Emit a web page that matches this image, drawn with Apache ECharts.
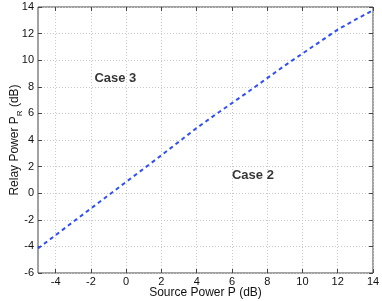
<!DOCTYPE html>
<html><head><meta charset="utf-8">
<script src="https://cdn.jsdelivr.net/npm/echarts@6/dist/echarts.min.js"></script>
<style>html,body{margin:0;padding:0;background:#fff}#c{width:382px;height:301px}</style>
</head><body><div id="c"></div>
<script>
const xValues = [-5,-4,-3,-2,-1,0,1,2,3,4,5,6,7,8,9,10,11,12,13,14];
const yValues = [-4.15,-3.15,-2.15,-1.15,-0.15,0.85,1.85,2.85,3.88,4.9,5.85,6.77,7.7,8.65,9.6,10.5,11.4,12.3,13.05,13.75];
const xTicks = [-4,-2,0,2,4,6,8,10,12,14];
const yTicks = [-6,-4,-2,0,2,4,6,8,10,12,14];
const regionLabels = [{name:'Case 3', x:-1.8, y:8.62}, {name:'Case 2', x:6.0, y:1.3}];

const font = 'Liberation Sans, Arial, Helvetica, sans-serif';
const axisColor = '#444';
const gridLine = {show:true, lineStyle:{color:'#c8c8c8', type:[1,2], width:1}};
const chart = echarts.init(document.getElementById('c'), null, {renderer:'canvas'});
chart.setOption({
  animation:false,
  grid:{left:38, right:9, top:7, bottom:28, show:true, borderColor:axisColor, borderWidth:1, containLabel:false, outerBoundsMode:'none'},
  xAxis:[{
    type:'value', min:-5, max:14, position:'bottom',
    axisLine:{show:false, onZero:false},
    axisTick:{show:true, inside:true, length:4, lineStyle:{color:axisColor}, customValues:xTicks},
    axisLabel:{customValues:xTicks, color:'#111', fontSize:11, fontFamily:font, margin:3},
    splitLine:gridLine,
    name:'Source Power P (dB)', nameLocation:'middle', nameGap:13.5, nameMoveOverlap:false,
    nameTextStyle:{color:'#111', fontSize:12, fontFamily:font, verticalAlign:'top'}
  },{
    type:'value', min:-5, max:14, position:'top',
    axisLine:{show:false, onZero:false},
    axisTick:{show:true, inside:true, length:4, lineStyle:{color:axisColor}, customValues:xTicks},
    axisLabel:{show:false}, splitLine:{show:false}
  }],
  yAxis:[{
    type:'value', min:-6, max:14, interval:2, position:'left',
    axisLine:{show:false, onZero:false},
    axisTick:{show:true, inside:true, length:4, lineStyle:{color:axisColor}, customValues:yTicks},
    axisLabel:{color:'#111', fontSize:11, fontFamily:font, margin:4},
    splitLine:gridLine,
    name:'Relay Power P{sub|R} (dB)', nameLocation:'middle', nameGap:14, nameMoveOverlap:false,
    nameTextStyle:{color:'#111', fontSize:12, fontFamily:font, verticalAlign:'bottom',
      rich:{sub:{fontSize:8, fontFamily:font, color:'#111', verticalAlign:'bottom', lineHeight:18}}}
  },{
    type:'value', min:-6, max:14, interval:2, position:'right',
    axisLine:{show:false, onZero:false},
    axisTick:{show:true, inside:true, length:4, lineStyle:{color:axisColor}, customValues:yTicks},
    axisLabel:{show:false}, splitLine:{show:false}
  }],
  series:[{
    type:'line', xAxisIndex:0, yAxisIndex:0, showSymbol:false, symbol:'none',
    data:xValues.map((x,i)=>[x,yValues[i]]),
    lineStyle:{color:'#2f4ff7', width:2, type:[4,3.5]}
  },{
    type:'scatter', xAxisIndex:0, yAxisIndex:0, symbolSize:0, silent:true,
    data:regionLabels.map(d=>({value:[d.x,d.y], name:d.name})),
    label:{show:true, position:[0,0], align:'left', verticalAlign:'middle', formatter:p=>p.name,
      fontSize:13, fontWeight:'bold', color:'#000', fontFamily:font}
  }]
});
</script></body></html>
